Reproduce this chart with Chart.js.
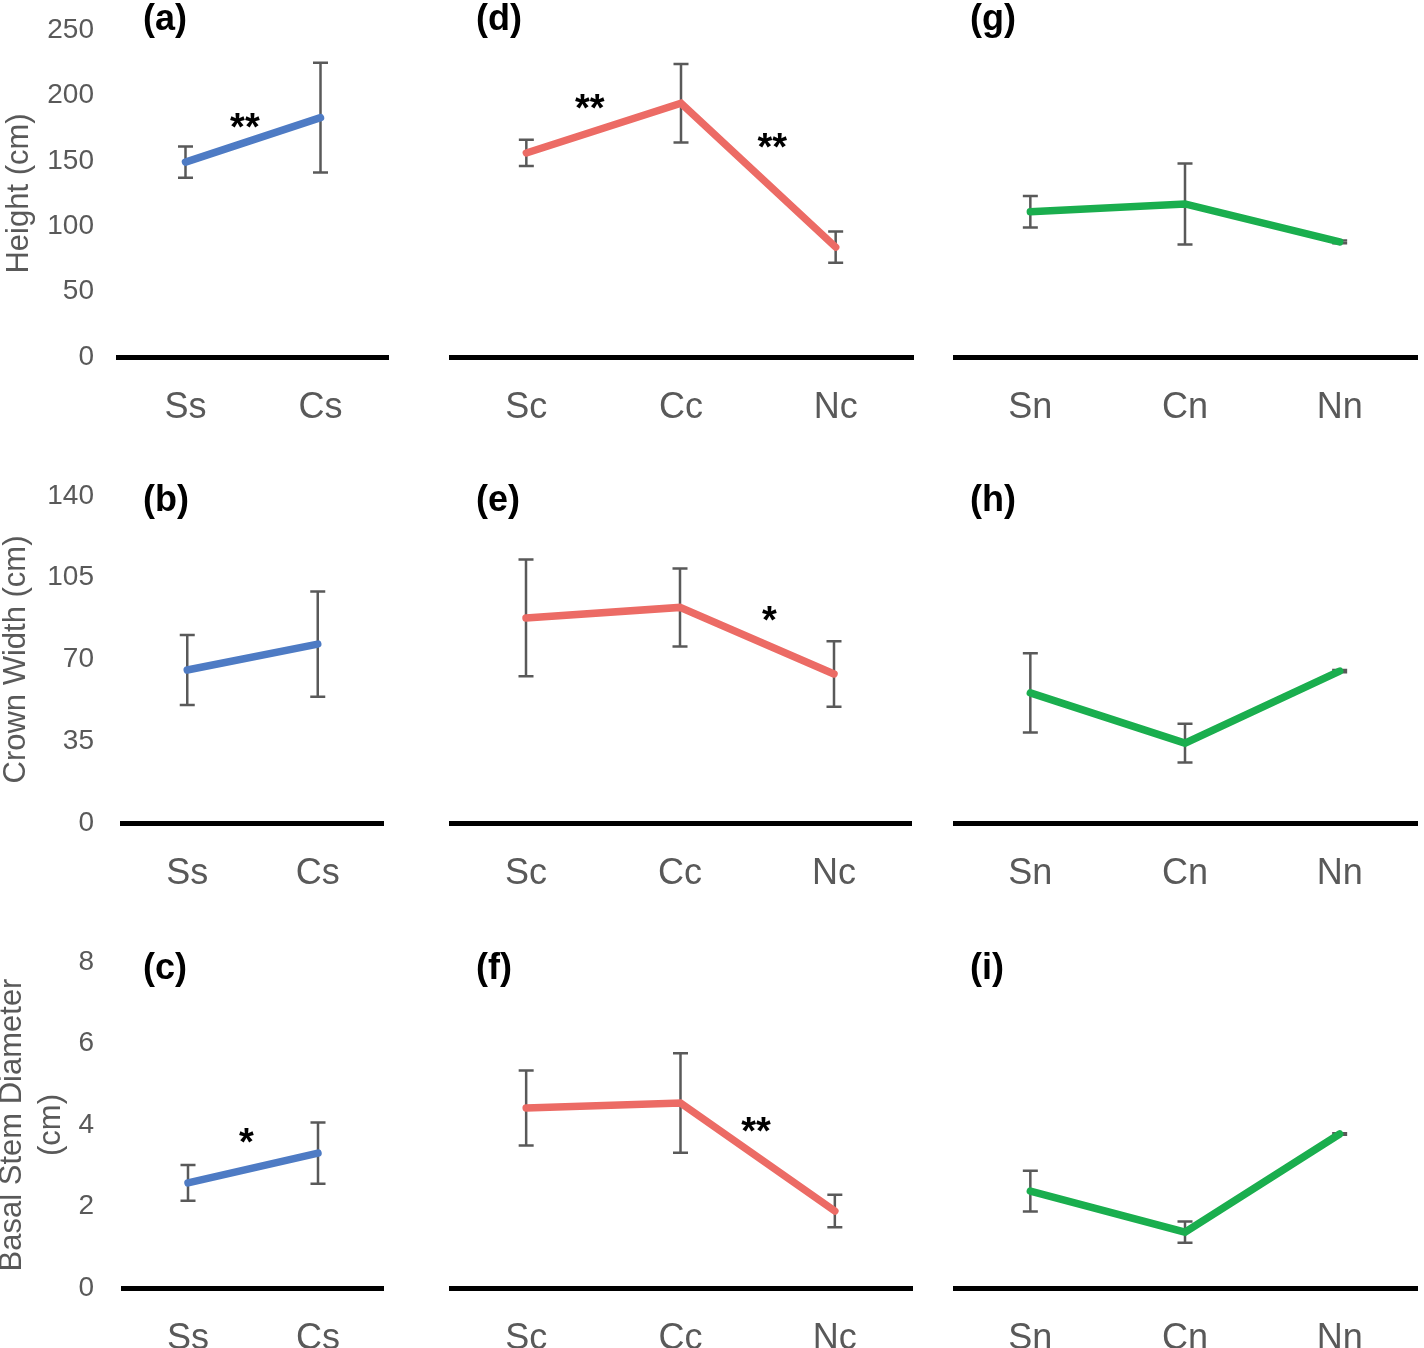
<!DOCTYPE html>
<html>
<head>
<meta charset="utf-8">
<script src="https://cdn.jsdelivr.net/npm/chart.js@4.4.1/dist/chart.umd.min.js"></script>
<style>
  body { margin: 0; background: #fff; }
  #page { position: relative; width: 1424px; height: 1348px; overflow: hidden; background: #fff; }
  #page canvas { position: absolute; }
</style>
</head>
<body>
<div id="page"></div>
<script>
// categories for the three site groups
const catS = ['Ss', 'Cs'];
const catC = ['Sc', 'Cc', 'Nc'];
const catN = ['Sn', 'Cn', 'Nn'];

// height (cm) means and error
const heightS = [149, 183];
const heightSErr = [12, 42];
const heightC = [156, 194, 84];
const heightCErr = [10, 30, 12];
const heightN = [111, 117, 88];
const heightNErr = [12, 31, 1];

// crown width (cm)
const crownS = [65.5, 76.6];
const crownSErr = [15, 22.5];
const crownC = [87.8, 92.3, 63.8];
const crownCErr = [25, 16.7, 14];
const crownN = [55.7, 34.2, 65];
const crownNErr = [17, 8.3, 0.5];

// basal stem diameter (cm)
const bsdS = [2.58, 3.31];
const bsdSErr = [0.44, 0.75];
const bsdC = [4.42, 4.54, 1.89];
const bsdCErr = [0.92, 1.22, 0.4];
const bsdN = [2.38, 1.37, 3.78];
const bsdNErr = [0.5, 0.26, 0.02];

// y axis per row
const yTitles = ['Height (cm)', 'Crown Width (cm)', ['Basal Stem Diameter', '(cm)']];
const yMax = [250, 140, 8];
const yStep = [50, 35, 2];

// significance marks (category position, value, text)
const starsA = [{at: 0.44, v: 180, text: '**'}];
const starsD = [{at: 0.41, v: 194, text: '**'}, {at: 1.59, v: 164, text: '**'}];
const starsE = [{at: 1.58, v: 89, text: '*'}];
const starsC = [{at: 0.45, v: 3.71, text: '*'}];
const starsF = [{at: 1.49, v: 3.98, text: '**'}];

const blue = '#4E7BC4', red = '#EC6B65', green = '#1AAE4E';
const grey = '#595959';
const font = "'Liberation Sans', Arial, sans-serif";

// layout of the grid (page pixels)
const rowTop = [30, 496, 962];
const rowBottom = [357, 823, 1288];
const plotLeft = [[118, 122, 123], [449, 449, 449], [953, 953, 953]];
const plotRight = [[388, 383, 383], [913, 911, 912], [1417, 1417, 1417]];
const col0Shift = [0, -3, -7];
const letterX = [143, 476, 970];
const letterY = [20, 501, 969];
const xAxisH = 90;

const panels = [
  {letter: '(a)', row: 0, col: 0, cats: catS, vals: heightS, errs: heightSErr, color: blue, stars: starsA},
  {letter: '(b)', row: 1, col: 0, cats: catS, vals: crownS, errs: crownSErr, color: blue, stars: []},
  {letter: '(c)', row: 2, col: 0, cats: catS, vals: bsdS, errs: bsdSErr, color: blue, stars: starsC},
  {letter: '(d)', row: 0, col: 1, cats: catC, vals: heightC, errs: heightCErr, color: red, stars: starsD},
  {letter: '(e)', row: 1, col: 1, cats: catC, vals: crownC, errs: crownCErr, color: red, stars: starsE},
  {letter: '(f)', row: 2, col: 1, cats: catC, vals: bsdC, errs: bsdCErr, color: red, stars: starsF},
  {letter: '(g)', row: 0, col: 2, cats: catN, vals: heightN, errs: heightNErr, color: green, stars: []},
  {letter: '(h)', row: 1, col: 2, cats: catN, vals: crownN, errs: crownNErr, color: green, stars: []},
  {letter: '(i)', row: 2, col: 2, cats: catN, vals: bsdN, errs: bsdNErr, color: green, stars: []}
];

// error bars under the line, letters and stars on top
function extrasPlugin(p, left, top) {
  return {
    id: 'extras',
    beforeDatasetsDraw(chart) {
      const {ctx, scales: {x, y}} = chart;
      ctx.save();
      ctx.strokeStyle = grey;
      ctx.lineWidth = 2.5;
      p.errs.forEach((e, i) => {
        const px = x.getPixelForValue(i);
        const t = y.getPixelForValue(p.vals[i] + e);
        const b = y.getPixelForValue(p.vals[i] - e);
        ctx.beginPath();
        ctx.moveTo(px, t); ctx.lineTo(px, b);
        ctx.moveTo(px - 7.5, t); ctx.lineTo(px + 7.5, t);
        ctx.moveTo(px - 7.5, b); ctx.lineTo(px + 7.5, b);
        ctx.stroke();
      });
      ctx.restore();
    },
    afterDraw(chart) {
      const {ctx, scales: {x, y}} = chart;
      ctx.save();
      ctx.fillStyle = '#000';
      ctx.font = 'bold 38px ' + font;
      ctx.textAlign = 'center';
      ctx.textBaseline = 'alphabetic';
      p.stars.forEach(s => {
        ctx.fillText(s.text, x.getPixelForValue(s.at), y.getPixelForValue(s.v) + 18);
      });
      ctx.font = 'bold 36px ' + font;
      ctx.textAlign = 'left';
      ctx.textBaseline = 'middle';
      ctx.fillText(p.letter, letterX[p.col] - left, letterY[p.row] - top);
      ctx.restore();
    }
  };
}

const page = document.getElementById('page');

panels.forEach(p => {
  const pl = plotLeft[p.col][p.row];
  const pr = plotRight[p.col][p.row];
  const left = p.col === 0 ? col0Shift[p.row] : pl;
  const top = rowTop[p.row] - 30;
  const width = pr + 4 - left;
  const height = rowBottom[p.row] + xAxisH - top;

  const canvas = document.createElement('canvas');
  canvas.width = width;
  canvas.height = height;
  canvas.style.left = left + 'px';
  canvas.style.top = top + 'px';
  canvas.style.width = width + 'px';
  canvas.style.height = height + 'px';
  page.appendChild(canvas);

  const showY = p.col === 0;

  new Chart(canvas, {
    type: 'line',
    data: {
      labels: p.cats,
      datasets: [{
        data: p.vals,
        borderColor: p.color,
        backgroundColor: p.color,
        borderWidth: 7.5,
        borderCapStyle: 'round',
        borderJoinStyle: 'miter',
        pointRadius: 0,
        tension: 0
      }]
    },
    options: {
      responsive: false,
      animation: false,
      devicePixelRatio: 1,
      layout: { padding: { top: 30, right: 4, bottom: 0, left: 0 } },
      plugins: {
        legend: { display: false },
        tooltip: { enabled: false },
        title: { display: false }
      },
      scales: {
        x: {
          type: 'category',
          offset: true,
          grid: { display: false, drawTicks: false, tickLength: 0 },
          border: { display: true, color: '#000', width: 5 },
          ticks: {
            color: grey,
            font: { family: font, size: 36 },
            padding: 29,
            maxRotation: 0,
            autoSkip: false
          },
          afterFit: s => {
            s.height = xAxisH;
            s.paddingLeft = 0; s.paddingRight = 0;
          }
        },
        y: {
          display: showY,
          min: 0,
          max: yMax[p.row],
          grid: { display: false, drawTicks: false, tickLength: 0 },
          border: { display: false },
          ticks: {
            stepSize: yStep[p.row],
            color: grey,
            font: { family: font, size: 28 },
            padding: pl - 94
          },
          title: {
            display: showY,
            text: yTitles[p.row],
            color: grey,
            font: { family: font, size: 31, lineHeight: 1.25 },
            padding: 0
          },
          afterFit: s => {
            s.width = pl - left;
            s.paddingTop = 0; s.paddingBottom = 0;
          }
        }
      }
    },
    plugins: [extrasPlugin(p, left, top)]
  });
});
</script>
</body>
</html>
